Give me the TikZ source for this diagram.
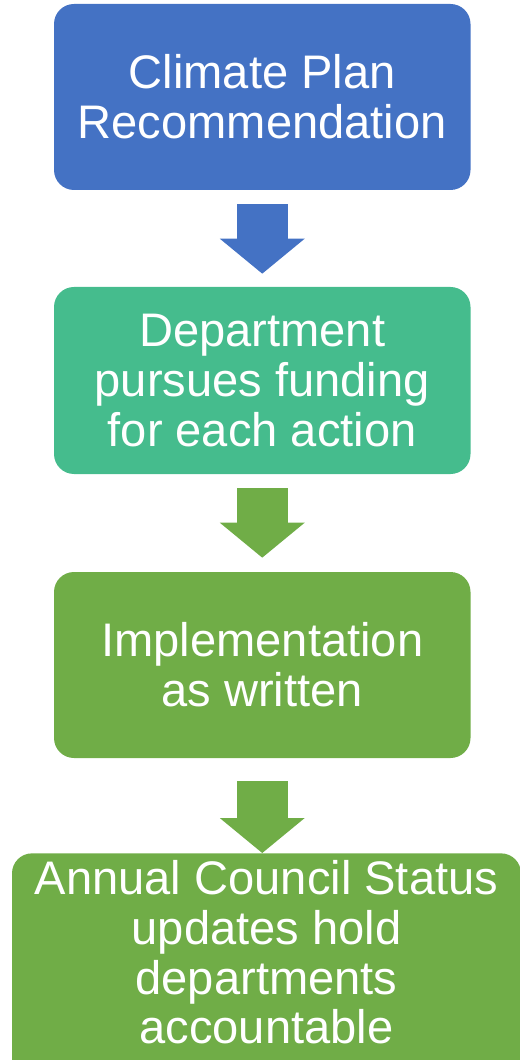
\documentclass[tikz,border=0pt]{standalone}
\usepackage{fontspec}
\setmainfont{Liberation Sans}
\usetikzlibrary{arrows.meta,calc}

\definecolor{planblue}{HTML}{4472C4}
\definecolor{fundteal}{HTML}{45BC8D}
\definecolor{stepgreen}{HTML}{70AD47}

\begin{document}
\begin{tikzpicture}[every node/.style={font=\fontsize{26.8}{28.3}\selectfont, text=white, align=center},
	box/.style={rounded corners=0.4cm, minimum width=8.33cm, minimum height=3.72cm},
	link/.style={line width=1.02cm, -{Triangle[width=1.7cm, length=0.7cm, line width=0pt]}}]
				\useasboundingbox (0,0) rectangle (10.38,-21.2);

				% Nodes
				\node[box, fill=planblue] (plan) at (5.245,-1.94) {Climate Plan\\Recommendation};
				\node[box, fill=fundteal, minimum height=3.74cm] (funding) at (5.245,-7.61) {Department\\pursues funding\\for each action};
				\node[box, fill=stepgreen] (impl) at (5.245,-13.3) {Implementation\\as written};
				\node[box, fill=stepgreen, minimum width=10.18cm, minimum height=0pt, anchor=north,
					inner ysep=0.146cm, text depth=3.27cm] (council) at (5.33,-17.06)
					{Annual Council Status\\updates hold\\departments\\accountable};

				% Links
				\draw[link, planblue] ($(plan.south)+(0,-0.28)$) -- ($(funding.north)+(0,0.26)$);
				\draw[link, stepgreen] ($(funding.south)+(0,-0.28)$) -- ($(impl.north)+(0,0.28)$);
				\draw[link, stepgreen] ($(impl.south)+(0,-0.46)$) -- (impl.south |- council.north);
			\end{tikzpicture}
\end{document}
